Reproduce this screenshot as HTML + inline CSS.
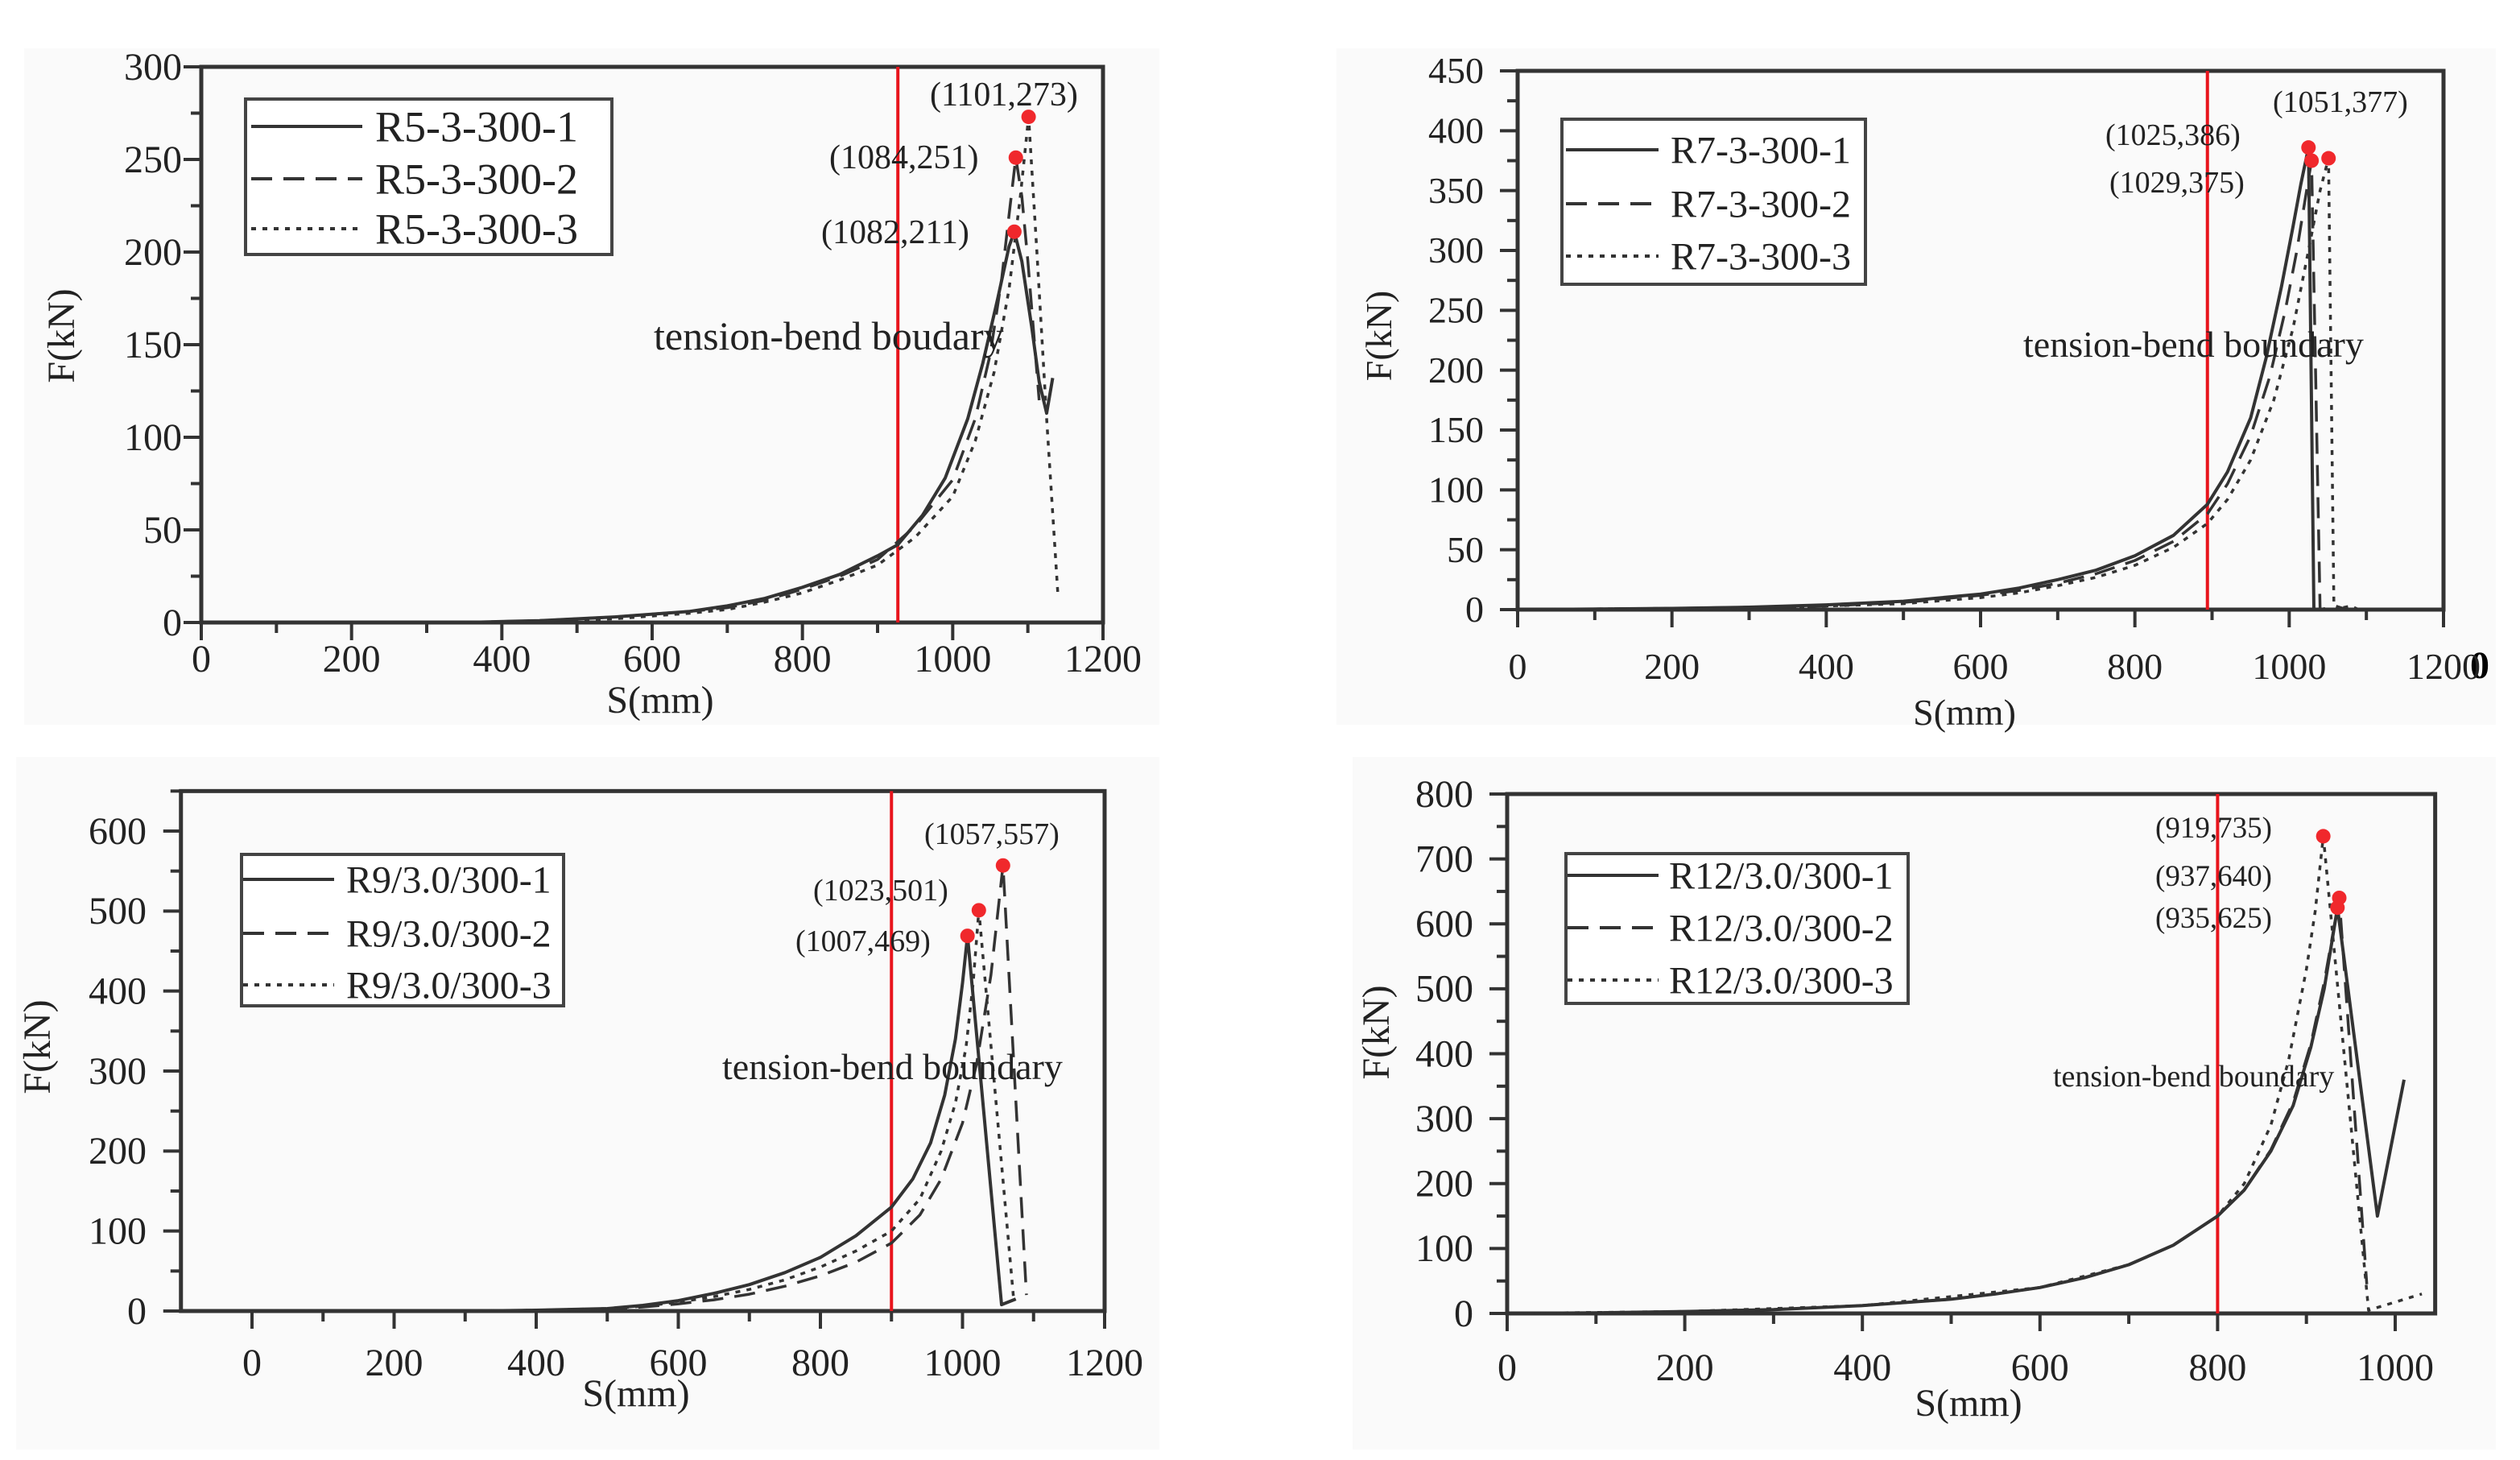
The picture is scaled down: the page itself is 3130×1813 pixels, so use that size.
<!DOCTYPE html>
<html><head><meta charset="utf-8"><style>
html,body{margin:0;padding:0;background:#fff}
svg{display:block}
text{font-family:"Liberation Serif",serif;fill:#222}
</style></head><body>
<svg id="fig" width="3130" height="1813" viewBox="0 0 3130 1813">
<rect x="0" y="0" width="3130" height="1813" fill="#fff"/>
<rect x="30" y="60" width="1410" height="840" fill="#fafafa"/>
<rect x="1660" y="60" width="1440" height="840" fill="#fafafa"/>
<rect x="20" y="940" width="1420" height="860" fill="#fafafa"/>
<rect x="1680" y="940" width="1420" height="860" fill="#fafafa"/>
<text x="3080" y="842" font-size="48" font-weight="bold" text-anchor="middle" style="fill:#000">0</text>
</svg>
<script>
// ---- Panel data ----
const p1Names = ["R5-3-300-1","R5-3-300-2","R5-3-300-3"];
const p1S1x = [0,350,450,550,650,700,750,800,850,900,927,960,990,1020,1040,1060,1075,1082,1092,1105,1115,1125,1133];
const p1S1y = [0,0,1,3,6,9,13,19,26,36,42,58,78,110,140,175,203,211,195,160,130,113,132];
const p1S2x = [0,350,450,550,650,700,750,800,850,900,950,1000,1030,1050,1065,1075,1084,1092,1100,1115];
const p1S2y = [0,0,1,3,6,8,12,18,25,34,52,77,110,145,185,220,251,230,195,120];
const p1S3x = [0,350,450,550,650,700,750,800,850,900,950,1000,1030,1055,1075,1090,1101,1112,1125,1140];
const p1S3y = [0,0,1,2,5,7,11,16,23,31,46,68,98,135,180,230,273,200,110,15];
const p1Peaks = [[1082,211],[1084,251],[1101,273]];

const p2Names = ["R7-3-300-1","R7-3-300-2","R7-3-300-3"];
const p2S1x = [0,200,300,400,500,600,650,700,750,800,850,894,920,950,970,990,1005,1015,1025,1032];
const p2S1y = [0,1,2,4,7,13,18,25,33,45,62,88,115,160,210,270,320,355,386,0];
const p2S2x = [0,200,300,400,500,600,650,700,750,800,850,894,920,950,975,995,1010,1020,1029,1040,1060,1075];
const p2S2y = [0,1,2,3,6,12,16,22,30,41,57,80,105,145,195,250,300,340,375,0,3,0];
const p2S3x = [0,200,300,400,500,600,650,700,750,800,850,894,920,950,980,1005,1025,1040,1051,1058,1080,1090];
const p2S3y = [0,1,1,3,5,10,14,20,27,37,52,72,92,125,175,235,300,350,377,0,3,0];
const p2Peaks = [[1025,386],[1029,375],[1051,377]];

const p3Names = ["R9/3.0/300-1","R9/3.0/300-2","R9/3.0/300-3"];
const p3S1x = [0,300,400,500,550,600,650,700,750,800,850,900,930,955,975,990,1000,1007,1055,1075];
const p3S1y = [0,0,1,3,7,13,22,33,48,67,94,130,165,210,270,340,410,469,8,15];
const p3S2x = [0,300,400,500,550,600,650,700,750,800,850,900,940,970,1000,1020,1040,1057,1090];
const p3S2y = [0,0,1,2,5,9,14,21,31,44,61,85,120,165,235,310,420,557,20];
const p3S3x = [0,300,400,500,550,600,650,700,750,800,850,900,940,970,990,1005,1015,1023,1072];
const p3S3y = [0,0,1,3,6,11,18,27,39,55,75,100,140,200,260,330,410,501,15];
const p3Peaks = [[1007,469],[1023,501],[1057,557]];

const p4Names = ["R12/3.0/300-1","R12/3.0/300-2","R12/3.0/300-3"];
const p4S1x = [0,100,200,300,400,500,550,600,650,700,750,800,830,860,885,905,920,935,980,1010];
const p4S1y = [0,1,3,6,12,22,30,40,55,75,105,150,190,250,320,410,500,625,150,360];
const p4S2x = [0,100,200,300,400,500,550,600,650,700,750,800,830,860,885,905,920,937,968];
const p4S2y = [0,1,3,6,12,22,30,40,55,75,105,150,190,252,325,415,510,640,45];
const p4S3x = [0,200,400,600,700,750,800,830,860,880,900,910,919,970,1030];
const p4S3y = [0,3,12,40,75,105,150,200,290,390,530,620,735,5,30];
const p4Peaks = [[935,625],[937,640],[919,735]];

const svg = document.getElementById('fig');
const NS = 'http://www.w3.org/2000/svg';
function mk(tag, attrs, parent){const e=document.createElementNS(NS,tag);for(const k in attrs)e.setAttribute(k,attrs[k]);(parent||svg).appendChild(e);return e;}

const dashes = ["", "26,14", "6,8"];

function panel(cfg){
  const g = mk('g',{});
  
  
  const sx = v => cfg.px0 + (v - cfg.xv0) * (cfg.px1 - cfg.px0) / (cfg.xv1 - cfg.xv0);
  const sy = v => cfg.py0 + (v - 0) * (cfg.py1 - cfg.py0) / (cfg.yv1 - 0);
  const L = sx(cfg.xmin), R = sx(cfg.xmax), B = sy(0), T = sy(cfg.ymax);
  for (let v = cfg.xTickStart; v <= cfg.xmax + 1e-6; v += cfg.xStep/2){
    const major = Math.abs((v - cfg.xTickStart) % cfg.xStep) < 1e-6;
    const t = mk('line',{x1:sx(v),x2:sx(v),y1:B,y2:B+(major?22:13),stroke:'#333','stroke-width':4},g);
    
    
    if (major){
      const lb = mk('text',{x:sx(v),y:cfg.xLabY,'font-size':cfg.fs,'text-anchor':'middle'},g);
      lb.textContent = v;
      
      
    }
  }
  for (let v = 0; v <= cfg.ymax + 1e-6; v += cfg.yStep/2){
    const major = Math.abs(v % cfg.yStep) < 1e-6;
    const t = mk('line',{x1:L-(major?22:13),x2:L,y1:sy(v),y2:sy(v),stroke:'#333','stroke-width':4},g);
    
    
    if (major){
      const lb = mk('text',{x:cfg.yLabX,y:sy(v)+cfg.fs*0.33,'font-size':cfg.fs,'text-anchor':'end'},g);
      lb.textContent = v;
      
      
    }
  }
  const box = mk('rect',{x:L,y:T,width:R-L,height:B-T,fill:'none',stroke:'#333','stroke-width':5},g);
  
  
  const rl = mk('line',{x1:sx(cfg.boundary),x2:sx(cfg.boundary),y1:T,y2:B,stroke:'#e8141c','stroke-width':4},g);
  
  
  cfg.series.forEach((s,i)=>{
    const pts = s[0].map((x,j)=>sx(x).toFixed(1)+','+sy(s[1][j]).toFixed(1)).join(' ');
    const pl = mk('polyline',{points:pts,fill:'none',stroke:'#333','stroke-width':i==0?4:3.5,'stroke-dasharray':dashes[i],'stroke-linejoin':'round'},g);
    
    
  });
  cfg.peaks.forEach((p,i)=>{
    const c = mk('circle',{cx:sx(p[0]),cy:sy(p[1]),r:9,fill:'#f0282c'},g);
    
    
    const t = mk('text',{x:cfg.annX[i],y:cfg.annY[i],'font-size':cfg.annFs},g);
    t.textContent = '('+p[0]+','+p[1]+')';
    
    
  });
  const tb = mk('text',{x:cfg.tbX,y:cfg.tbY,'font-size':cfg.tbFs},g);
  tb.textContent = cfg.tbText;
  
  
  const lg = mk('g',{},g);
  
  
  mk('rect',{x:cfg.lg[0],y:cfg.lg[1],width:cfg.lg[2],height:cfg.lg[3],fill:'#fff',stroke:'#444','stroke-width':4},lg);
  cfg.names.forEach((n,i)=>{
    const y = cfg.lgRows[i];
    const ln = mk('line',{x1:cfg.lgLine[0],x2:cfg.lgLine[1],y1:y,y2:y,stroke:'#333','stroke-width':4,'stroke-dasharray':dashes[i]},lg);
    
    
    const t = mk('text',{x:cfg.lgText,y:y+cfg.lgFs*0.34,'font-size':cfg.lgFs},lg);
    t.textContent = n;
    
    
  });
  const yt = mk('text',{x:0,y:0,'font-size':cfg.fs,'text-anchor':'middle',transform:'translate('+cfg.yTitle[0]+','+cfg.yTitle[1]+') rotate(-90)'},g);
  yt.textContent = 'F(kN)';
  
  
  const xt = mk('text',{x:cfg.xTitle[0],y:cfg.xTitle[1],'font-size':cfg.fs,'text-anchor':'middle'},g);
  xt.textContent = 'S(mm)';
  
  
}

panel({id:'panel-r5',px0:250,px1:1370,xv0:0,xv1:1200,py0:773,py1:83,yv1:300,
  xmin:0,xmax:1200,ymax:300,xStep:200,xTickStart:0,yStep:50,boundary:927,
  fs:48,xLabY:834,yLabX:226,series:[[p1S1x,p1S1y],[p1S2x,p1S2y],[p1S3x,p1S3y]],peaks:p1Peaks,
  annX:[1020,1030,1155],annY:[302,209,131],annFs:42,tbX:812,tbY:434,tbFs:50,tbText:'tension-bend boudary',
  names:p1Names,lg:[305,123,455,193],lgRows:[157,222,284],lgLine:[312,450],lgText:466,lgFs:54,
  yTitle:[92,417],xTitle:[820,885]});

panel({id:'panel-r7',px0:1885,px1:3035,xv0:0,xv1:1200,py0:757,py1:88,yv1:450,
  xmin:0,xmax:1200,ymax:450,xStep:200,xTickStart:0,yStep:50,boundary:894,
  fs:46,xLabY:843,yLabX:1843,series:[[p2S1x,p2S1y],[p2S2x,p2S2y],[p2S3x,p2S3y]],peaks:p2Peaks,
  annX:[2615,2620,2823],annY:[180,239,139],annFs:38,tbX:2513,tbY:443,tbFs:46,tbText:'tension-bend boundary',
  names:p2Names,lg:[1940,148,377,205],lgRows:[186,253,318],lgLine:[1945,2060],lgText:2075,lgFs:48,
  yTitle:[1728,417],xTitle:[2440,900]});

panel({id:'panel-r9',px0:313,px1:1372,xv0:0,xv1:1200,py0:1628,py1:1032,yv1:600,
  xmin:-100,xmax:1200,ymax:650,xStep:200,xTickStart:0,yStep:100,boundary:900,
  fs:48,xLabY:1708,yLabX:182,series:[[p3S1x,p3S1y],[p3S2x,p3S2y],[p3S3x,p3S3y]],peaks:p3Peaks,
  annX:[988,1010,1148],annY:[1181,1118,1048],annFs:38,tbX:897,tbY:1340,tbFs:46,tbText:'tension-bend boundary',
  names:p3Names,lg:[300,1061,400,188],lgRows:[1092,1159,1223],lgLine:[302,415],lgText:430,lgFs:48,
  yTitle:[62,1300],xTitle:[790,1746]});

panel({id:'panel-r12',px0:1872,px1:2975,xv0:0,xv1:1000,py0:1631,py1:986,yv1:800,
  xmin:0,xmax:1045,ymax:800,xStep:200,xTickStart:0,yStep:100,boundary:800,
  fs:48,xLabY:1714,yLabX:1830,series:[[p4S1x,p4S1y],[p4S2x,p4S2y],[p4S3x,p4S3y]],peaks:p4Peaks,
  annX:[2677,2677,2677],annY:[1152,1100,1040],annFs:37,tbX:2550,tbY:1349,tbFs:38,tbText:'tension-bend boundary',
  names:p4Names,lg:[1945,1060,425,186],lgRows:[1087,1152,1217],lgLine:[1947,2060],lgText:2073,lgFs:48,
  yTitle:[1725,1282],xTitle:[2445,1758]});
</script>
</body></html>
